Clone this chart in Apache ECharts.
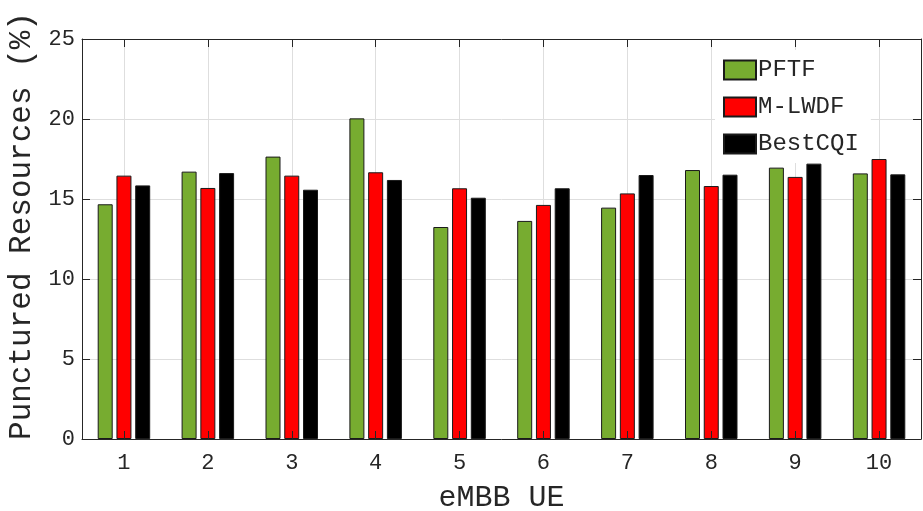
<!DOCTYPE html>
<html>
<head>
<meta charset="utf-8">
<script src="https://cdn.jsdelivr.net/npm/echarts@6/dist/echarts.min.js"></script>
<style>
html,body{margin:0;padding:0;background:#fff;}
#chart{width:923px;height:511px;}
</style>
</head>
<body>
<div id="chart"></div>
<script>
const categories = ['1','2','3','4','5','6','7','8','9','10'];
const pftf    = [14.67, 16.71, 17.65, 20.04, 13.25, 13.63, 14.46, 16.81, 16.96, 16.60];
const mlwdf   = [16.46, 15.69, 16.46, 16.67, 15.67, 14.63, 15.35, 15.81, 16.38, 17.50];
const bestcqi = [15.85, 16.62, 15.58, 16.19, 15.08, 15.67, 16.50, 16.52, 17.21, 16.54];
const yTicks = [0, 5, 10, 15, 20, 25];

// half-band helper axis so vertical grid lines sit on category centres
const halfBands = categories.flatMap(c => [c + 'a', c + 'b']);

const FONT = 'Liberation Mono';
const TXT = '#262626';
const GRIDC = '#dedede';
const chart = echarts.init(document.getElementById('chart'), null, {renderer:'canvas'});

function barSeries(name, data, color){
  return {
    name, type:'bar', data, xAxisIndex:0, yAxisIndex:0,
    barWidth:15, barGap:'25%',
    itemStyle:{color, borderColor:'#1a1a1a', borderWidth:1},
    z:2
  };
}
const oddOnly = (idx) => idx % 2 === 1;

chart.setOption({
  animation:false,
  backgroundColor:'#fff',
  grid:{left:82, right:2, top:39, bottom:72, containLabel:false, outerBoundsMode:'none'},
  legend:{
    orient:'vertical', left:715, top:50,
    padding:[8,12,7,8],
    backgroundColor:'#fff',
    icon:'rect',
    itemWidth:32, itemHeight:19, itemGap:13,
    textStyle:{fontFamily:FONT, fontSize:24, color:TXT, padding:[0,0,0,-3]},
    data:['PFTF','M-LWDF','BestCQI'],
    z:20
  },
  xAxis:[
    {
      type:'category', data:categories, position:'bottom', boundaryGap:true,
      axisLine:{show:true, lineStyle:{color:TXT, width:1}},
      axisTick:{show:true, inside:true, alignWithLabel:true, length:8, lineStyle:{color:TXT}},
      axisLabel:{fontFamily:FONT, fontSize:22, color:TXT, margin:13},
      splitLine:{show:false},
      name:'eMBB UE', nameLocation:'middle', nameGap:44,
      nameTextStyle:{fontFamily:FONT, fontSize:30, color:TXT},
      z:10
    },
    {
      type:'category', data:halfBands, position:'top', boundaryGap:true,
      axisLine:{show:true, onZero:false, lineStyle:{color:TXT, width:1}},
      axisTick:{show:true, inside:true, interval:oddOnly, length:8, lineStyle:{color:TXT}},
      axisLabel:{show:false},
      splitLine:{show:true, interval:oddOnly, lineStyle:{color:GRIDC, width:1}},
      z:0
    }
  ],
  yAxis:[
    {
      type:'value', min:0, max:25, interval:5, position:'left',
      axisLine:{show:true, onZero:false, lineStyle:{color:TXT, width:1}},
      axisTick:{show:true, inside:true, length:8, lineStyle:{color:TXT}},
      axisLabel:{fontFamily:FONT, fontSize:22, color:TXT, margin:7,
        formatter:(v)=> yTicks.includes(v) ? String(v) : ''},
      splitLine:{show:true, lineStyle:{color:GRIDC, width:1}},
      name:'Punctured Resources (%)', nameLocation:'middle', nameGap:43, nameRotate:90,
      nameTextStyle:{fontFamily:FONT, fontSize:31, color:TXT, padding:[0,0,0,26]},
      z:0
    },
    {
      type:'value', min:0, max:25, interval:5, position:'right',
      axisLine:{show:true, onZero:false, lineStyle:{color:TXT, width:1}},
      axisTick:{show:true, inside:true, length:8, lineStyle:{color:TXT}},
      axisLabel:{show:false},
      splitLine:{show:false},
      z:10
    }
  ],
  series:[
    barSeries('PFTF', pftf, '#77AC30'),
    barSeries('M-LWDF', mlwdf, '#FF0000'),
    barSeries('BestCQI', bestcqi, '#000000')
  ]
});
</script>
</body>
</html>
